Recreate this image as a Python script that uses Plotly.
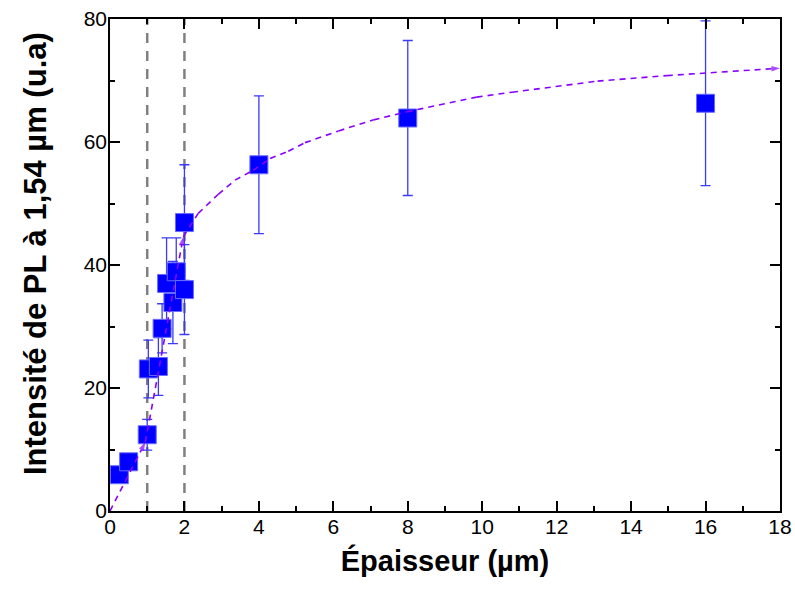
import plotly.graph_objects as go

# Measured data points
thickness = [0.25, 0.5, 1.0, 1.03, 1.3, 1.4, 1.52, 1.69, 1.78, 2.0, 2.0, 4, 8, 16]
intensity = [5.9, 8.0, 12.4, 23.1, 23.5, 29.7, 37.0, 33.9, 38.9, 36.0, 46.9, 56.3, 63.9, 66.3]
errors = [0.8, 1.0, 2.5, 4.7, 4.7, 4.0, 7.4, 6.7, 5.5, 7.3, 9.4, 11.2, 12.6, 13.4]

# Guide curve
curve_x = [0, 0.95, 1.97, 2.37, 2.91, 3.36, 3.85, 4.3, 4.79, 5.24, 6.14, 7.08, 7.97,
           8.96, 9.85, 10.8, 11.65, 13.1, 14.96, 16.85, 18]
curve_y = [0, 11.2, 44.6, 48.4, 51.5, 53.8, 55.4, 57.3, 58.5, 59.9, 61.8, 63.6, 64.9,
           66.2, 67.3, 68.1, 68.8, 69.9, 70.8, 71.6, 72.0]
arrow_idx = [1, 2, len(curve_x) - 1]

ref_lines = [1, 2]

x_ticks = [0, 2, 4, 6, 8, 10, 12, 14, 16, 18]
y_ticks = [0, 20, 40, 60, 80]

fig = go.Figure()

fig.add_trace(go.Scatter(
    x=thickness, y=intensity, mode="markers",
    marker=dict(symbol="square", size=18, color="#0000FF",
                line=dict(color="#6A6AFF", width=1)),
    error_y=dict(type="data", array=errors, visible=True, color="#3A3AFF",
                 thickness=1.3, width=5),
    showlegend=False, cliponaxis=False,
))

arrow_sizes = [9 if i in arrow_idx else 0 for i in range(len(curve_x))]
fig.add_trace(go.Scatter(
    x=curve_x, y=curve_y, mode="lines+markers",
    line=dict(color="#8A00FF", width=1.6, dash="6px,5px"),
    marker=dict(symbol="arrow", angleref="previous", size=arrow_sizes,
                color="#8A00FF", line=dict(width=0)),
    showlegend=False, cliponaxis=False,
))

for xv in ref_lines:
    fig.add_shape(type="line", x0=xv, x1=xv, y0=0, y1=80, xref="x", yref="y",
                  line=dict(color="#808080", width=2.5, dash="10px,8px"), layer="below")

axis_common = dict(
    showline=True, linecolor="black", linewidth=1.5, mirror="ticks",
    ticks="inside", ticklen=10, tickwidth=1.5, tickcolor="black",
    showgrid=False, zeroline=False, automargin=False, ticklabeloverflow="allow",
    tickfont=dict(family="Liberation Sans, Arial", size=21, color="black"),
)

fig.update_xaxes(
    range=[0, 18], tickvals=x_ticks, ticktext=[str(t) for t in x_ticks],
    minor=dict(dtick=1, ticks="inside", ticklen=5, tickwidth=1.5, tickcolor="black"),
    ticklabelstandoff=-4,
    title=dict(text="<b>Épaisseur (µm)</b>", standoff=14,
               font=dict(family="Liberation Sans, Arial", size=29, color="black")),
    **axis_common,
)
fig.update_yaxes(
    range=[0, 80], tickvals=y_ticks, ticktext=[str(t) for t in y_ticks],
    minor=dict(dtick=10, ticks="inside", ticklen=5, tickwidth=1.5, tickcolor="black"),
    ticklabelstandoff=-3,
    **axis_common,
)

fig.add_annotation(
    text="<b>Intensité de PL à 1,54 µm (u.a)</b>", textangle=-90,
    xref="paper", yref="paper", x=0, y=0.5, xanchor="center", yanchor="middle",
    xshift=-75, yshift=11, showarrow=False,
    font=dict(family="Liberation Sans, Arial", size=31, color="black"),
)

fig.update_layout(
    width=795, height=589,
    margin=dict(l=110, r=15, t=19, b=78),
    paper_bgcolor="white", plot_bgcolor="white",
)

fig.write_html(
    "out.html",
    config={"displayModeBar": False},
    post_script="document.body.style.margin='0';document.body.style.overflow='hidden';",
)
